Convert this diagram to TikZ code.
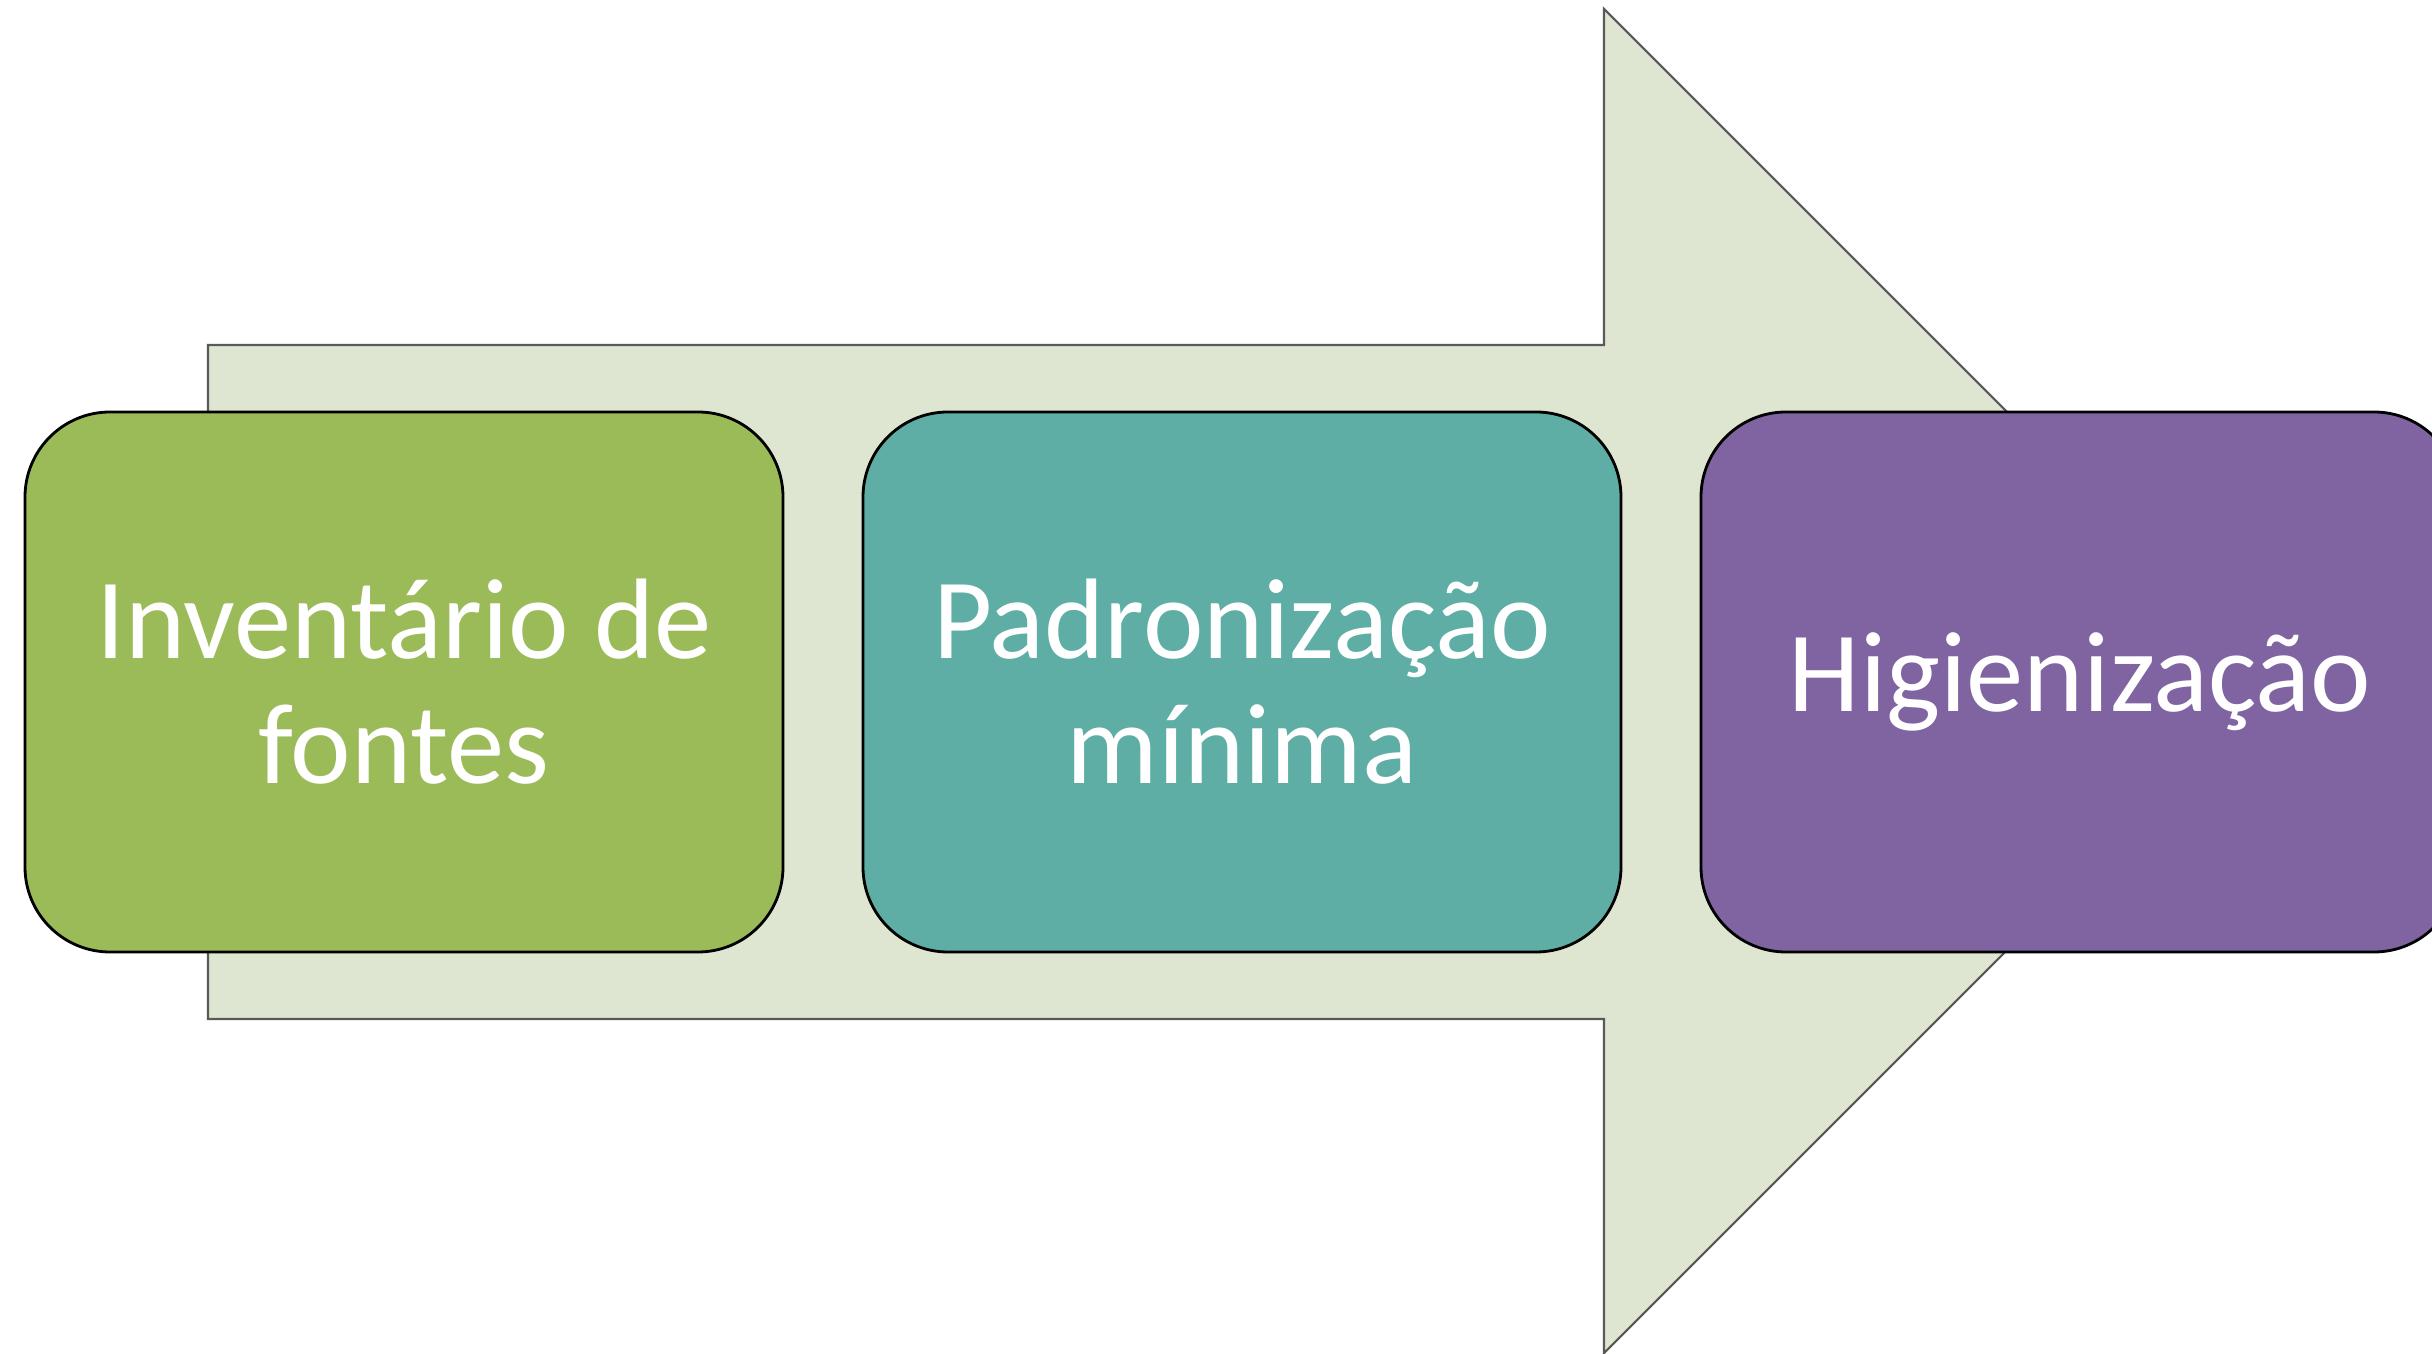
\documentclass[tikz,border=0pt]{standalone}
\usepackage{fontspec}
\setmainfont{Carlito}
\usetikzlibrary{positioning}

\definecolor{setaverde}{HTML}{DEE6D1}
\definecolor{etapaverde}{HTML}{9BBB59}
\definecolor{etapaazul}{HTML}{5EAEA6}
\definecolor{etaparoxa}{HTML}{8064A2}

\begin{document}
\begin{tikzpicture}
    [
        etapa/.style = {draw = black, line width = 0.8pt, rounded corners = 0.85cm,
                        minimum width = 7.58cm, minimum height = 5.4cm, outer sep = 0pt,
                        align = center, text = white,
                        font = \fontsize{32.6}{35.5}\selectfont},
        seta/.style = {draw = black!65, line width = 0.6pt, fill = setaverde},
        node distance = 0.8cm
    ]

        \useasboundingbox (0,0) rectangle (24.32,13.53);
        \clip (0,0) rectangle (24.32,13.53);

        % seta de fundo
        \draw[seta] (2.08,10.08) -- (16.04,10.08) -- (16.04,13.44)
            -- (22.76,6.72) -- (16.04,0) -- (16.04,3.34) -- (2.08,3.34) -- cycle;

        % etapas
        \node[etapa, fill = etapaverde] (inventario) at (4.04,6.71) {Inventário de\\fontes};
        \node[etapa, fill = etapaazul, right = of inventario] (padronizacao) {Padronização\\mínima};
        \node[etapa, fill = etaparoxa, right = of padronizacao] (higienizacao) {Higienização};
    \end{tikzpicture}
\end{document}
